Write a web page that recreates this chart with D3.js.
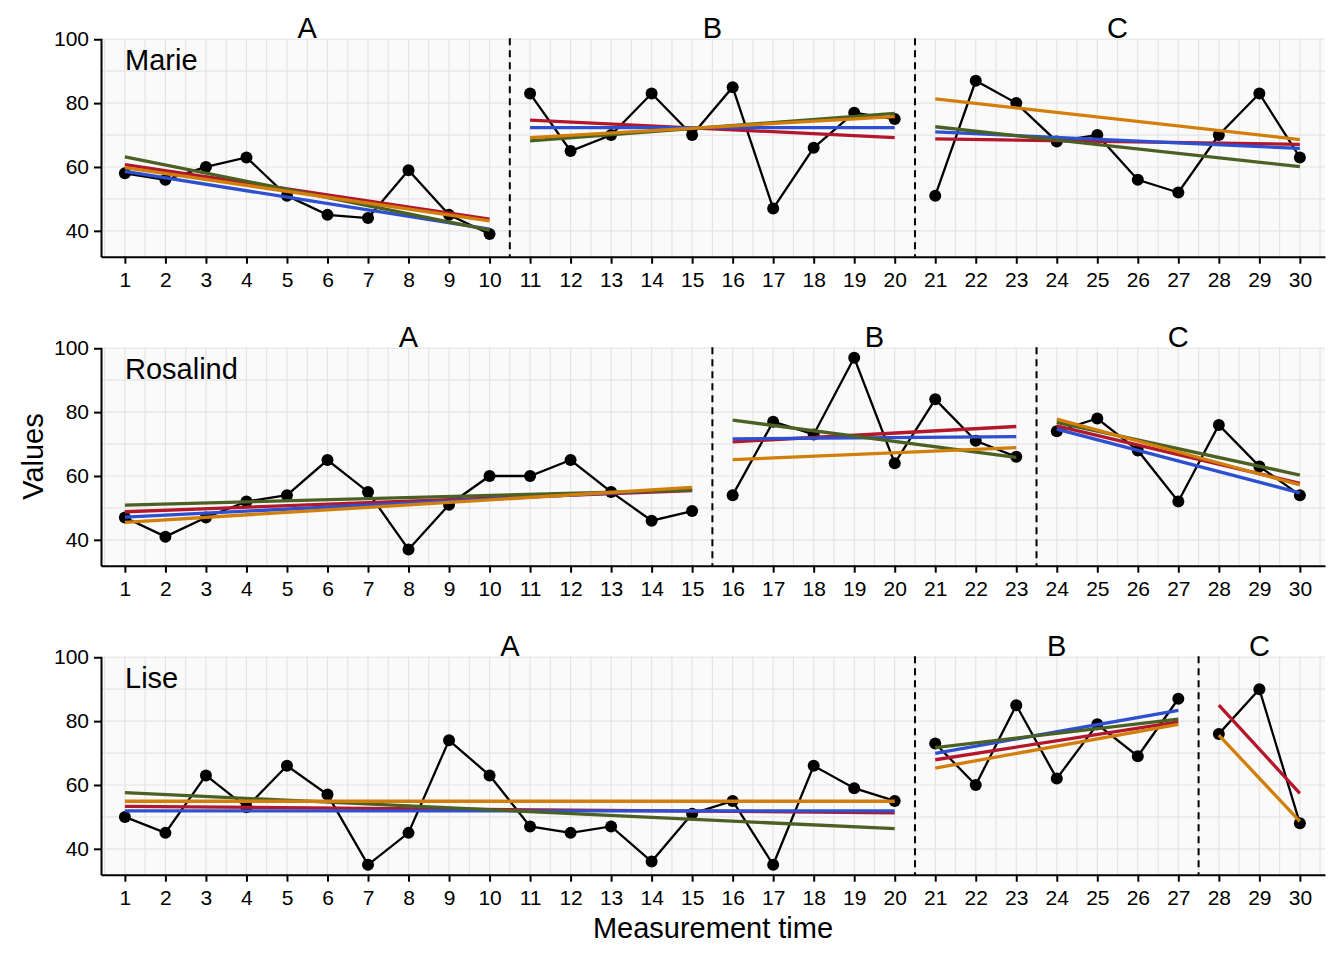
<!DOCTYPE html>
<html>
<head>
<meta charset="utf-8">
<script src="https://cdn.jsdelivr.net/npm/d3@7"></script>
<style>
  body { margin: 0; background: #ffffff; }
  text { font-family: "Liberation Sans", Arial, Helvetica, sans-serif; fill: #000; }
</style>
</head>
<body>
<script>
// Chart data
const measurementTimes = [1,2,3,4,5,6,7,8,9,10,11,12,13,14,15,16,17,18,19,20,21,22,23,24,25,26,27,28,29,30];
const phaseNames = ["A", "B", "C"];
const participants = ["Marie", "Rosalind", "Lise"];

const marieValues = [58,56,60,63,51,45,44,59,45,39, 83,65,70,83,70,85,47,66,77,75, 51,87,80,68,70,56,52,70,83,63];
const rosalindValues = [47,41,47,52,54,65,55,37,51,60,60,65,55,46,49, 54,77,73,97,64,84,71,66, 74,78,68,52,76,63,54];
const liseValues = [50,45,63,53,66,57,35,45,74,63,47,45,47,36,51,55,35,66,59,55, 73,60,85,62,79,69,87, 76,90,48];

const mariePhaseLengths = [10, 10, 10];
const rosalindPhaseLengths = [15, 8, 7];
const lisePhaseLengths = [20, 7, 3];

// trend line start/end values per phase (A, B, C), one row per method
const methodColors = ["#b2172b", "#2e4fcf", "#4b6123", "#d17f0a"];
const marieTrends = [
  [[60.7, 43.7], [74.7, 69.2], [68.8, 67.1]],
  [[58.6, 40.5], [72.3, 72.3], [71.0, 65.8]],
  [[63.2, 40.2], [68.2, 76.8], [72.6, 60.1]],
  [[59.8, 43.1], [69.2, 75.8], [81.3, 68.6]]
];
const rosalindTrends = [
  [[48.8, 55.4], [70.7, 75.5], [75.7, 57.7]],
  [[47.1, 55.9], [71.6, 72.3], [74.7, 54.7]],
  [[50.9, 55.6], [77.5, 65.8], [76.8, 60.3]],
  [[45.5, 56.4], [65.1, 68.9], [77.8, 57.2]]
];
const liseTrends = [
  [[53.3, 51.3], [67.9, 79.8], [85.0, 57.4]],
  [[51.9, 51.9], [69.9, 83.4], null],
  [[57.6, 46.3], [71.7, 80.6], null],
  [[54.9, 54.9], [65.3, 79.0], [75.6, 48.6]]
];

const yTicks = [40, 60, 80, 100];
const yGrid = [40, 50, 60, 70, 80, 90, 100];

const allValues = [marieValues, rosalindValues, liseValues];
const allPhaseLengths = [mariePhaseLengths, rosalindPhaseLengths, lisePhaseLengths];
const allTrends = [marieTrends, rosalindTrends, liseTrends];

// Layout
const width = 1344, height = 960;
const left = 101, right = 1325;
const panelTops = [38.3, 347.3, 656.3];
const panelHeight = 218.4;
const labelSize = "29px";

const svg = d3.select("body").append("svg")
  .attr("width", width)
  .attr("height", height);

const x = d3.scaleLinear().domain([0.41, 30.62]).range([left, right]);
const y = d3.scaleLinear().domain([31.9, 100.3]).range([panelHeight, 0]);

const halfSteps = [0.5].concat(measurementTimes.map(t => t + 0.5));

participants.forEach((name, p) => {
  const values = allValues[p];
  const lengths = allPhaseLengths[p];
  const trends = allTrends[p];
  const g = svg.append("g").attr("transform", `translate(0,${panelTops[p]})`);

  // panel background and grid
  g.append("rect")
    .attr("x", left).attr("y", 0)
    .attr("width", right - left).attr("height", panelHeight)
    .attr("fill", "#fafafa");

  g.selectAll(".vgrid")
    .data(halfSteps.concat(measurementTimes))
    .enter().append("line")
    .attr("x1", d => x(d)).attr("x2", d => x(d))
    .attr("y1", 0).attr("y2", panelHeight)
    .attr("stroke", "#e4e4e4").attr("stroke-width", 1.2);

  g.selectAll(".hgrid")
    .data(yGrid)
    .enter().append("line")
    .attr("x1", left).attr("x2", right)
    .attr("y1", d => y(d)).attr("y2", d => y(d))
    .attr("stroke", "#e4e4e4").attr("stroke-width", 1.2);

  // phase segments
  const phases = [];
  let start = 0;
  lengths.forEach((len, i) => {
    const pts = measurementTimes.slice(start, start + len).map((t, j) => ({ t: t, v: values[start + j] }));
    phases.push({ name: phaseNames[i], pts: pts, first: pts[0].t, last: pts[pts.length - 1].t });
    start += len;
  });

  // dashed phase change lines
  phases.slice(1).forEach(ph => {
    g.append("line")
      .attr("x1", x(ph.first - 0.5)).attr("x2", x(ph.first - 0.5))
      .attr("y1", 0).attr("y2", panelHeight)
      .attr("stroke", "#000").attr("stroke-width", 2)
      .attr("stroke-dasharray", "7,5");
  });

  // data lines and points
  const line = d3.line().x(d => x(d.t)).y(d => y(d.v));
  phases.forEach(ph => {
    g.append("path")
      .datum(ph.pts)
      .attr("d", line)
      .attr("fill", "none")
      .attr("stroke", "#000")
      .attr("stroke-width", 2.3);
    g.selectAll(null)
      .data(ph.pts)
      .enter().append("circle")
      .attr("cx", d => x(d.t)).attr("cy", d => y(d.v))
      .attr("r", 6)
      .attr("fill", "#000");
  });

  // trend lines
  trends.forEach((row, m) => {
    row.forEach((ends, i) => {
      if (!ends) return;
      const ph = phases[i];
      g.append("line")
        .attr("x1", x(ph.first)).attr("x2", x(ph.last))
        .attr("y1", y(ends[0])).attr("y2", y(ends[1]))
        .attr("stroke", methodColors[m])
        .attr("stroke-width", 3.3);
    });
  });

  // phase labels
  phases.forEach(ph => {
    g.append("text")
      .attr("x", x((ph.first + ph.last) / 2))
      .attr("y", -0.5)
      .attr("text-anchor", "middle")
      .style("font-size", labelSize)
      .text(ph.name);
  });

  // participant label
  g.append("text")
    .attr("x", left + 24).attr("y", 32)
    .style("font-size", labelSize)
    .text(name);

  // axes
  const yAxis = g.append("g")
    .attr("transform", `translate(${left},0)`)
    .call(d3.axisLeft(y).tickValues(yTicks).tickSize(7).tickSizeOuter(0).tickPadding(5));
  const xAxis = g.append("g")
    .attr("transform", `translate(0,${panelHeight})`)
    .call(d3.axisBottom(x).tickValues(measurementTimes).tickSize(7).tickSizeOuter(0).tickPadding(8));

  [yAxis, xAxis].forEach(ax => {
    ax.select(".domain").attr("stroke", "#000").attr("stroke-width", 2);
    ax.selectAll(".tick line").attr("stroke", "#000").attr("stroke-width", 2);
    ax.selectAll(".tick text")
      .style("font-size", "21px")
      .style("font-family", "'Liberation Sans', Arial, Helvetica, sans-serif")
      .attr("fill", "#000");
  });
});

// axis titles
svg.append("text")
  .attr("transform", `translate(43,${(panelTops[0] + panelTops[2] + panelHeight) / 2}) rotate(-90)`)
  .attr("text-anchor", "middle")
  .style("font-size", labelSize)
  .text("Values");

svg.append("text")
  .attr("x", (left + right) / 2)
  .attr("y", 938)
  .attr("text-anchor", "middle")
  .style("font-size", labelSize)
  .text("Measurement time");
</script>
</body>
</html>
